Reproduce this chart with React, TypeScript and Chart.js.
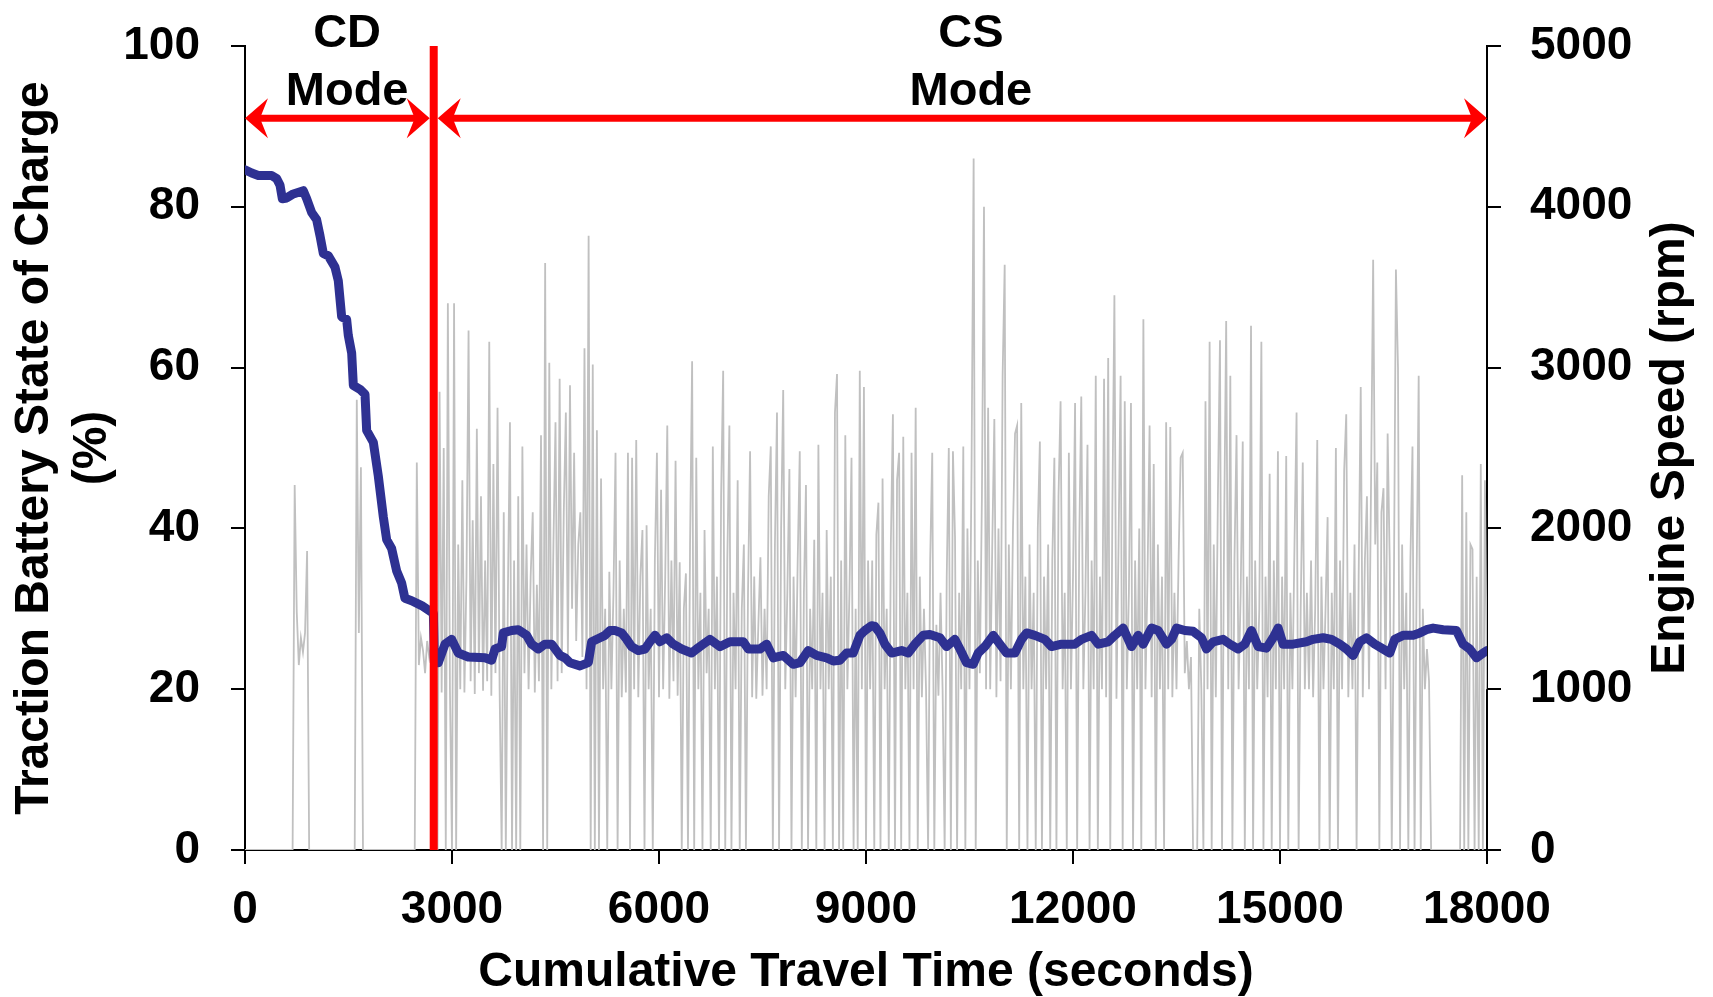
import React, { useEffect, useRef } from 'react';
import { Chart, registerables } from 'chart.js';

Chart.register(...registerables);

// ---------- axis definitions ----------
const X_MIN = 0;
const X_MAX = 18000;
const X_TICKS = [0, 3000, 6000, 9000, 12000, 15000, 18000];
const X_TICK_LABELS = ['0', '3000', '6000', '9000', '12000', '15000', '18000'];
const SOC_TICKS = [0, 20, 40, 60, 80, 100];
const SOC_TICK_LABELS = ['0', '20', '40', '60', '80', '100'];
const RPM_TICKS = [0, 1000, 2000, 3000, 4000, 5000];
const RPM_TICK_LABELS = ['0', '1000', '2000', '3000', '4000', '5000'];

const X_TITLE = 'Cumulative Travel Time (seconds)';
const SOC_TITLE = ['Traction Battery State of Charge', '(%)'];
const RPM_TITLE = 'Engine Speed (rpm)';

// ---------- traction battery state of charge (%) ----------
const SOC_TIME = [
  0, 97, 193, 386, 459, 507, 541, 604, 700, 845, 894, 966, 1038, 1087, 1135, 1208, 1304, 1352, 1401, 1473,
  1497, 1546, 1570, 1666, 1739, 1763, 1860, 1932, 2005, 2053, 2125, 2198, 2270, 2318, 2415, 2560, 2700, 2730, 2745, 2801,
  2898, 2995, 3091, 3236, 3478, 3574, 3623, 3719, 3743, 3864, 3961, 4081, 4154, 4250, 4347, 4444, 4564, 4637, 4710, 4855,
  4976, 5024, 5145, 5217, 5290, 5362, 5459, 5531, 5603, 5700, 5797, 5869, 5942, 6014, 6111, 6207, 6328, 6473, 6545, 6642,
  6739, 6883, 7028, 7222, 7294, 7463, 7560, 7656, 7801, 7946, 8043, 8163, 8284, 8429, 8526, 8622, 8719, 8815, 8912, 8984,
  9081, 9129, 9201, 9274, 9371, 9515, 9612, 9709, 9829, 9926, 10071, 10167, 10288, 10361, 10457, 10554, 10626, 10723, 10844, 10940,
  11037, 11158, 11254, 11327, 11447, 11592, 11689, 11834, 12027, 12124, 12269, 12365, 12510, 12607, 12727, 12848, 12945, 13017, 13138, 13235,
  13355, 13428, 13500, 13621, 13741, 13862, 13934, 14031, 14176, 14273, 14393, 14490, 14586, 14683, 14804, 14900, 14973, 15045, 15190, 15383,
  15480, 15625, 15746, 15866, 15963, 16060, 16156, 16253, 16374, 16494, 16591, 16663, 16784, 16929, 17026, 17122, 17219, 17364, 17557, 17653,
  17750, 17847, 17943, 18000,
];
const SOC_VALUE = [
  84.6, 84.2, 83.9, 83.9, 83.5, 82.7, 81.0, 81.1, 81.6, 82.0, 81.0, 79.3, 78.4, 76.4, 74.2, 73.9, 72.5, 70.8, 66.3, 66.0,
  64.0, 61.8, 57.8, 57.3, 56.7, 52.2, 50.7, 46.5, 41.4, 38.6, 37.5, 34.7, 33.2, 31.3, 31.0, 30.4, 29.6, 29.4, 23.3, 23.3,
  25.6, 26.2, 24.5, 24.0, 23.9, 23.6, 25.0, 25.3, 27.0, 27.3, 27.4, 26.7, 25.6, 25.0, 25.6, 25.6, 24.2, 23.9, 23.3, 22.9,
  23.3, 25.9, 26.4, 26.7, 27.3, 27.3, 27.0, 26.2, 25.3, 24.8, 25.0, 25.9, 26.7, 25.9, 26.4, 25.6, 25.0, 24.5, 25.0, 25.6,
  26.2, 25.3, 25.9, 25.9, 25.0, 25.0, 25.6, 23.9, 24.2, 23.1, 23.3, 24.8, 24.2, 23.9, 23.5, 23.6, 24.5, 24.5, 26.7, 27.3,
  27.9, 27.8, 27.0, 25.6, 24.5, 24.8, 24.5, 25.6, 26.7, 26.8, 26.4, 25.3, 26.2, 25.0, 23.3, 23.1, 24.5, 25.3, 26.7, 25.6,
  24.5, 24.5, 26.2, 27.0, 26.7, 26.2, 25.3, 25.6, 25.6, 26.2, 26.7, 25.6, 25.9, 26.7, 27.6, 25.3, 26.7, 25.6, 27.6, 27.3,
  25.6, 26.2, 27.6, 27.3, 27.2, 26.4, 25.0, 25.9, 26.2, 25.6, 25.0, 25.6, 27.3, 25.3, 25.1, 26.4, 27.6, 25.6, 25.6, 25.9,
  26.2, 26.4, 26.2, 25.6, 25.0, 24.2, 25.9, 26.4, 25.6, 25.0, 24.5, 26.2, 26.7, 26.7, 27.0, 27.4, 27.6, 27.4, 27.3, 25.6,
  25.0, 23.9, 24.5, 24.8,
];

// ---------- engine speed (rpm), sampled every 30 s ----------
const ENGINE_STEP = 30;
const RPM_FROM_0 = [
  0, 0, 0, 0, 0, 0, 0, 0, 0, 0,
  0, 0, 0, 0, 0, 0, 0, 0, 0, 0,
  0, 0, 0, 0, 2270, 1480, 1150, 1320, 1230, 1350,
  1860, 0, 0, 0, 0, 0, 0, 0, 0, 0,
  0, 0, 0, 0, 0, 0, 0, 0, 0, 0,
  0, 0, 0, 0, 2800, 1350, 2380, 0, 0, 0,
  0, 0, 0, 0, 0, 0, 0, 0, 0, 0,
  0, 0, 0, 0, 0, 0, 0, 0, 0, 0,
  0, 0, 0, 2410, 1150, 1320, 1240, 1100, 1300, 1200,
  1280, 0, 1900, 0, 2850, 980, 2500, 0, 3400, 1000,
];
const RPM_FROM_3000 = [
  0, 3400, 0, 1900, 1000, 2300, 980, 1700, 3230, 1050,
  2050, 970, 2620, 1100, 2200, 990, 1800, 1050, 3160, 960,
  2400, 1100, 2750, 1000, 0, 2100, 0, 1600, 2660, 0,
  1800, 0, 2200, 0, 2510, 1100, 1900, 1000, 1700, 2100,
  980, 1650, 1050, 2580, 0, 3650, 0, 3030, 1000, 1900,
  2660, 1050, 2930, 1100, 2100, 2720, 1200, 2890, 1500, 2470,
  1300, 1900, 2100, 1200, 3120, 1000, 3820, 0, 3020, 0,
  2610, 0, 2310, 1000, 1500, 0, 1730, 1000, 1600, 2470,
  0, 1800, 950, 1500, 980, 2470, 0, 2440, 1000, 2550,
  950, 1700, 1990, 0, 2020, 1000, 1500, 0, 1800, 2470,
];
const RPM_FROM_6000 = [
  950, 2240, 1000, 1700, 2640, 940, 1800, 1050, 2420, 960,
  1790, 0, 1500, 1720, 0, 1900, 3040, 0, 2440, 1000,
  1600, 0, 1990, 1100, 1500, 0, 2510, 1000, 1700, 0,
  2200, 2980, 0, 1800, 2640, 0, 1600, 1000, 2300, 0,
  1500, 1900, 0, 1600, 2480, 950, 1700, 940, 1400, 1820,
  960, 1500, 1000, 2200, 2510, 0, 1900, 2720, 0, 2000,
  2860, 1000, 1600, 2370, 0, 1700, 950, 1800, 2480, 0,
  1600, 2270, 0, 1500, 1000, 1930, 0, 2520, 1000, 1600,
  0, 1990, 1000, 1700, 0, 2720, 2960, 0, 1800, 0,
  2580, 1000, 1600, 2440, 0, 1500, 0, 2980, 1000, 2880,
];
const RPM_FROM_9000 = [
  0, 1800, 1000, 1800, 0, 1960, 2160, 0, 2310, 1000,
  1500, 0, 1900, 2710, 0, 2300, 2470, 0, 2570, 1000,
  1600, 0, 2470, 1000, 2750, 0, 1700, 950, 1500, 1000,
  0, 1800, 2470, 0, 1400, 960, 1600, 1000, 0, 1700,
  2500, 0, 2480, 1950, 0, 1600, 1000, 2510, 0, 2000,
  1000, 2400, 4300, 0, 1800, 1100, 2200, 4000, 1000, 2750,
  1000, 1900, 2680, 950, 2000, 1050, 2950, 3640, 0, 1900,
  1000, 2000, 2590, 2640, 0, 2780, 1000, 1700, 0, 1900,
  1000, 1600, 0, 2000, 2540, 0, 1700, 1000, 1900, 0,
  1800, 2440, 0, 2200, 2790, 1000, 1600, 0, 2470, 1000,
];
const RPM_FROM_12000 = [
  1700, 2780, 0, 1900, 2820, 1000, 1600, 2520, 0, 1800,
  1000, 2950, 0, 1700, 1000, 2930, 950, 3060, 0, 2100,
  3450, 940, 1900, 2950, 0, 2790, 1000, 1600, 2780, 0,
  1800, 1000, 2000, 0, 3300, 1000, 1700, 2640, 950, 2400,
  0, 1900, 1000, 1700, 0, 2660, 1000, 2630, 950, 1600,
  1000, 1800, 2440, 2470, 1100, 1300, 1000, 1200, 0, 0,
  0, 1500, 1000, 0, 2790, 1000, 3160, 0, 1900, 950,
  2200, 3170, 0, 2000, 3290, 1000, 2950, 0, 1800, 2580,
  1000, 1600, 2540, 0, 1700, 1000, 3260, 0, 1800, 1000,
  1500, 3160, 0, 1700, 950, 2340, 0, 1800, 1000, 2480,
];
const RPM_FROM_15000 = [
  0, 1700, 1000, 2450, 0, 1600, 1000, 1900, 2720, 0,
  1500, 2410, 1000, 1600, 1000, 1800, 950, 1500, 2550, 0,
  1700, 1000, 1500, 2070, 0, 1600, 1000, 2500, 0, 1800,
  1000, 2360, 2710, 950, 1600, 1000, 1900, 0, 1700, 2880,
  950, 1800, 2200, 1000, 2300, 3670, 1900, 2410, 0, 2100,
  2250, 1000, 2590, 1800, 0, 1600, 3610, 3000, 0, 1900,
  1000, 1600, 0, 1800, 2510, 0, 1700, 2950, 0, 1500,
  1000, 1250, 1050, 0, 0, 0, 0, 0, 0, 0,
  0, 0, 0, 0, 0, 0, 0, 0, 2330, 0,
  2100, 0, 1900, 1870, 0, 1700, 0, 2400, 0, 2300,
  1000,
];
const RPM_BLOCK_STARTS = [0, 3000, 6000, 9000, 12000, 15000];
const RPM_BLOCKS = [RPM_FROM_0, RPM_FROM_3000, RPM_FROM_6000, RPM_FROM_9000, RPM_FROM_12000, RPM_FROM_15000];

// ---------- annotations ----------
const MODE_SWITCH_TIME = 2735;
const MODE_NAMES = ['CD', 'CS'];
const MODE_LABEL_TIME = [1480, 10520];
const MODE_NAME_SOC = 99.9;
const MODE_WORD_SOC = 92.7;
const ARROW_SOC = 91;

const FONT_FAMILY = '"Liberation Sans", Arial, Helvetica, sans-serif';
const RED = '#FF0000';
const BLUE = '#2E3192';
const GREY = '#C0C0C0';

function labelFrom(values: number[], labels: string[]) {
  return (v: number | string) => {
    const i = values.indexOf(Number(v));
    return i >= 0 ? labels[i] : '';
  };
}

function drawHead(ctx: CanvasRenderingContext2D, tipX: number, y: number, dir: number) {
  ctx.beginPath();
  ctx.moveTo(tipX, y);
  ctx.lineTo(tipX - dir * 23, y - 20);
  ctx.lineTo(tipX - dir * 15, y);
  ctx.lineTo(tipX - dir * 23, y + 20);
  ctx.closePath();
  ctx.fill();
}

function drawDoubleArrow(ctx: CanvasRenderingContext2D, x1: number, x2: number, y: number) {
  ctx.lineWidth = 7;
  ctx.lineCap = 'butt';
  ctx.beginPath();
  ctx.moveTo(x1 + 10, y);
  ctx.lineTo(x2 - 10, y);
  ctx.stroke();
  drawHead(ctx, x1, y, -1);
  drawHead(ctx, x2, y, 1);
}

const modePlugin = {
  id: 'modeAnnotations',
  afterDatasetsDraw(chart: any) {
    const { ctx, chartArea } = chart;
    const xs = chart.scales.x;
    const ys = chart.scales.y;
    const yA = ys.getPixelForValue(ARROW_SOC);
    const xStart = xs.getPixelForValue(X_MIN);
    const xSwitch = xs.getPixelForValue(MODE_SWITCH_TIME);
    const xEnd = xs.getPixelForValue(X_MAX);
    ctx.save();
    ctx.fillStyle = RED;
    ctx.strokeStyle = RED;
    drawDoubleArrow(ctx, xStart, xSwitch - 4, yA);
    drawDoubleArrow(ctx, xSwitch + 4, xEnd, yA);

    ctx.fillStyle = '#000';
    ctx.font = `bold 47px ${FONT_FAMILY}`;
    ctx.textAlign = 'center';
    ctx.textBaseline = 'alphabetic';
    MODE_NAMES.forEach((name, i) => {
      const x = xs.getPixelForValue(MODE_LABEL_TIME[i]);
      ctx.fillText(name, x, ys.getPixelForValue(MODE_NAME_SOC));
      ctx.fillText('Mode', x, ys.getPixelForValue(MODE_WORD_SOC));
    });

    // right-hand axis title, reading bottom to top
    ctx.font = `bold 48px ${FONT_FAMILY}`;
    ctx.textBaseline = 'middle';
    ctx.translate(1671, (chartArea.top + chartArea.bottom) / 2);
    ctx.rotate(-Math.PI / 2);
    ctx.fillText(RPM_TITLE, 0, 0);
    ctx.restore();
  },
};

export default function App() {
  const canvasRef = useRef<HTMLCanvasElement>(null);

  useEffect(() => {
    const canvas = canvasRef.current;
    if (!canvas) return;

    const socData = SOC_TIME.map((t, i) => ({ x: t, y: SOC_VALUE[i] }));
    const engineData: { x: number; y: number }[] = [];
    RPM_BLOCKS.forEach((block, b) => {
      block.forEach((rpm, i) => {
        engineData.push({ x: RPM_BLOCK_STARTS[b] + i * ENGINE_STEP, y: rpm });
      });
    });
    const switchLine = [
      { x: MODE_SWITCH_TIME, y: 0 },
      { x: MODE_SWITCH_TIME, y: 100 },
    ];

    const xTickFont = { family: FONT_FAMILY, size: 46, weight: 'bold' as const };
    // small line height on the vertical axes keeps Chart.js from adding extra top padding
    const yTickFont = { family: FONT_FAMILY, size: 46, weight: 'bold' as const, lineHeight: 0.4 };
    const titleFont = { family: FONT_FAMILY, size: 48, weight: 'bold' as const };
    const axisGrid = { drawOnChartArea: false, drawTicks: true, tickLength: 14, color: '#000', lineWidth: 2 };
    const axisBorder = { display: true, color: '#000', width: 2 };

    const chart = new Chart(canvas, {
      type: 'line',
      data: {
        datasets: [
          {
            label: 'CD/CS switch',
            data: switchLine,
            borderColor: RED,
            borderWidth: 8,
            pointRadius: 0,
            yAxisID: 'y',
            borderCapStyle: 'butt',
          },
          {
            label: 'Traction Battery SOC',
            data: socData,
            borderColor: BLUE,
            borderWidth: 9,
            pointRadius: 0,
            tension: 0,
            yAxisID: 'y',
            borderJoinStyle: 'round',
            borderCapStyle: 'round',
          },
          {
            label: 'Engine Speed',
            data: engineData,
            borderColor: GREY,
            borderWidth: 1.8,
            pointRadius: 0,
            tension: 0,
            yAxisID: 'y1',
          },
        ],
      },
      options: {
        responsive: false,
        animation: false,
        devicePixelRatio: 1,
        parsing: false,
        normalized: true,
        layout: { padding: { top: 46, left: 0, right: 0, bottom: 0 } },
        plugins: {
          legend: { display: false },
          tooltip: { enabled: false },
        },
        scales: {
          x: {
            type: 'linear',
            min: X_MIN,
            max: X_MAX,
            afterBuildTicks: (scale: any) => {
              scale.ticks = X_TICKS.map((v) => ({ value: v }));
            },
            afterFit: (scale: any) => {
              scale.height = 147;
            },
            ticks: {
              autoSkip: false,
              maxRotation: 0,
              padding: 19,
              color: '#000',
              font: xTickFont,
              callback: labelFrom(X_TICKS, X_TICK_LABELS),
            },
            grid: axisGrid,
            border: axisBorder,
            title: {
              display: true,
              text: X_TITLE,
              color: '#000',
              font: { ...titleFont, lineHeight: 1.0 },
              padding: { top: 0, bottom: 0 },
            },
          },
          y: {
            type: 'linear',
            position: 'left',
            min: 0,
            max: 100,
            afterBuildTicks: (scale: any) => {
              scale.ticks = SOC_TICKS.map((v) => ({ value: v }));
            },
            afterFit: (scale: any) => {
              scale.width = 245;
            },
            ticks: {
              padding: 31,
              color: '#000',
              font: yTickFont,
              callback: labelFrom(SOC_TICKS, SOC_TICK_LABELS),
            },
            grid: axisGrid,
            border: axisBorder,
            title: {
              display: true,
              text: SOC_TITLE,
              color: '#000',
              font: titleFont,
              padding: { top: 6, bottom: 0 },
            },
          },
          y1: {
            type: 'linear',
            position: 'right',
            min: 0,
            max: 5000,
            afterBuildTicks: (scale: any) => {
              scale.ticks = RPM_TICKS.map((v) => ({ value: v }));
            },
            afterFit: (scale: any) => {
              scale.width = 226;
            },
            ticks: {
              padding: 29,
              color: '#000',
              font: yTickFont,
              callback: labelFrom(RPM_TICKS, RPM_TICK_LABELS),
            },
            grid: axisGrid,
            border: axisBorder,
          },
        },
      } as any,
      plugins: [modePlugin],
    });

    return () => chart.destroy();
  }, []);

  return (
    <div style={{ position: 'absolute', left: 0, top: 0, width: 1713, height: 997, background: '#fff' }}>
      <canvas ref={canvasRef} width={1713} height={997} style={{ display: 'block', width: 1713, height: 997 }} />
    </div>
  );
}
